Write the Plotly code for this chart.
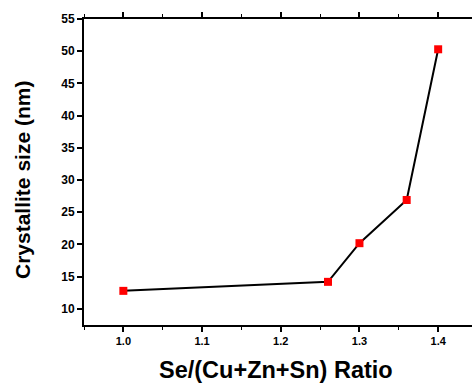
import plotly.graph_objects as go

ratio = [1.00, 1.26, 1.30, 1.36, 1.40]
size_nm = [12.8, 14.2, 20.2, 26.9, 50.3]
x_ticks = [1.0, 1.1, 1.2, 1.3, 1.4]
x_tick_labels = ["1.0", "1.1", "1.2", "1.3", "1.4"]
y_ticks = [10, 15, 20, 25, 30, 35, 40, 45, 50, 55]

fig = go.Figure()
fig.add_trace(go.Scatter(
    x=ratio, y=size_nm, mode="lines+markers",
    line=dict(color="black", width=2),
    marker=dict(symbol="square", size=8, color="#ff0000"),
    showlegend=False,
))

fam = "Liberation Sans, Arial"
font_xtick = dict(family=fam, size=11, color="black", weight="bold")
font_ytick = dict(family=fam, size=12, color="black", weight="bold")

fig.update_layout(
    width=472, height=383,
    margin=dict(l=84, r=0, t=19, b=58),
    plot_bgcolor="white", paper_bgcolor="white",
    xaxis=dict(
        range=[0.95, 1.443], tickvals=x_ticks, ticktext=x_tick_labels,
        showgrid=False, zeroline=False,
        showline=True, linecolor="black", linewidth=2, mirror="ticks",
        ticks="outside", ticklen=5, tickwidth=1.5, tickcolor="black",
        minor=dict(ticks="outside", ticklen=3, tickwidth=1, tickcolor="black", dtick=0.05, tick0=0.95),
        tickfont=font_xtick,
    ),
    yaxis=dict(
        range=[7.5, 55], tickvals=y_ticks,
        showgrid=False, zeroline=False,
        showline=True, linecolor="black", linewidth=2,
        ticks="outside", ticklen=5, tickwidth=1.5, tickcolor="black",
        tickfont=font_ytick,
    ),
    annotations=[
        dict(text="Crystallite size (nm)", xref="paper", yref="paper",
             x=(22 - 84) / 388, y=(325 - 180) / 306, textangle=-90,
             xanchor="center", yanchor="middle", showarrow=False,
             font=dict(family=fam, size=21, color="black", weight="bold")),
        dict(text="Se/(Cu+Zn+Sn) Ratio", xref="paper", yref="paper",
             x=(276 - 84) / 388, y=(325 - 370) / 306,
             xanchor="center", yanchor="middle", showarrow=False,
             font=dict(family=fam, size=23.5, color="black", weight="bold")),
    ],
)

fig.write_html("out.html")
